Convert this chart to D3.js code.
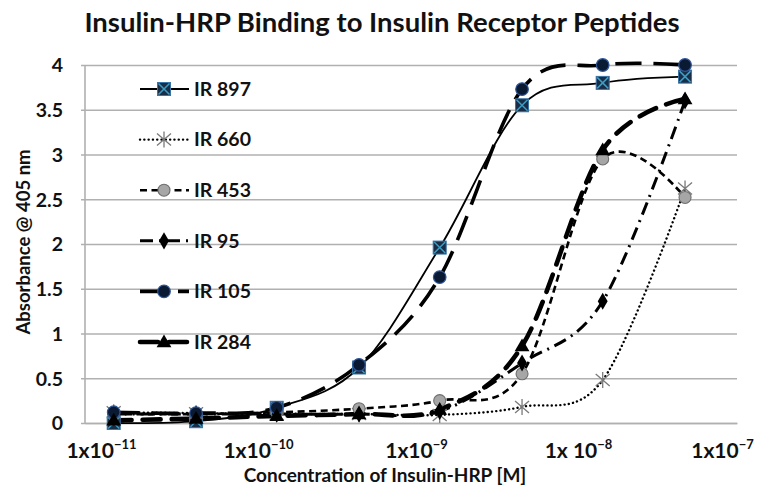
<!DOCTYPE html>
<html>
<head>
<meta charset="utf-8">
<script src="https://cdn.jsdelivr.net/npm/d3@7"></script>
<style>
  html, body { margin: 0; padding: 0; background: #fff; }
  svg { display: block; }
  text { font-family: Lato, "Open Sans", sans-serif; font-weight: bold; fill: #111; }
</style>
</head>
<body>
<svg id="chart" width="760" height="495"></svg>
<script>
// ---------------- data ----------------
const chartTitle = "Insulin-HRP Binding to Insulin Receptor Peptides";
const xAxisTitle = "Concentration of Insulin-HRP [M]";
const yAxisTitle = "Absorbance @ 405 nm";

const concentrations = [1.5e-11, 4.8e-11, 1.5e-10, 4.8e-10, 1.5e-9, 4.8e-9, 1.5e-8, 4.8e-8];

const seriesNames = ["IR 897", "IR 660", "IR 453", "IR 95", "IR 105", "IR 284"];
const ir897 = [0.00, 0.02, 0.17, 0.62, 1.96, 3.55, 3.80, 3.87];
const ir660 = [0.12, 0.11, 0.10, 0.10, 0.09, 0.18, 0.48, 2.62];
const ir453 = [0.10, 0.10, 0.12, 0.16, 0.25, 0.55, 2.95, 2.52];
const ir95  = [0.10, 0.10, 0.10, 0.10, 0.13, 0.67, 1.36, 3.60];
const ir105 = [0.12, 0.11, 0.17, 0.65, 1.63, 3.73, 4.00, 4.00];
const ir284 = [0.03, 0.05, 0.08, 0.10, 0.15, 0.86, 3.05, 3.62];

const yTickValues = [0, 0.5, 1, 1.5, 2, 2.5, 3, 3.5, 4];
const yTickLabels = ["0", "0.5", "1", "1.5", "2", "2.5", "3", "3.5", "4"];
const xTickValues = [1e-11, 1e-10, 1e-9, 1e-8, 1e-7];
const xTickBase = ["1x10", "1x10", "1x10", "1x 10", "1x10"];
const xTickExp = ["\u221211", "\u221210", "\u22129", "\u22128", "\u22127"];

// ---------------- styles ----------------
const seriesValues = [ir897, ir660, ir453, ir95, ir105, ir284];
const seriesStyle = [
  { dash: null,        width: 1.8, cap: "butt",  marker: "squareX" },
  { dash: "0.1,4.2",   width: 2.4, cap: "round", marker: "star" },
  { dash: "7,4.5",     width: 2.6, cap: "butt",  marker: "circleGrey" },
  { dash: "13,6,2,6",  width: 3.0, cap: "butt",  marker: "diamond" },
  { dash: "26,12",     width: 3.6, cap: "butt",  marker: "circleNavy" },
  { dash: "18,11",     width: 4.6, cap: "round", marker: "triangle" }
];

const svg = d3.select("#chart");
const plot = { left: 85, right: 737, top: 65, bottom: 423 };

const x = d3.scaleLog().domain([1e-11, 1e-7]).range([plot.left, plot.right]);
const y = d3.scaleLinear().domain([0, 4]).range([plot.bottom, plot.top]);

// title
svg.append("text")
  .attr("x", 382).attr("y", 32)
  .attr("text-anchor", "middle")
  .style("font-size", "27.5px")
  .text(chartTitle);

// y grid + axis
const yAxis = d3.axisLeft(y)
  .tickValues(yTickValues)
  .tickFormat((d, i) => yTickLabels[i])
  .tickSize(-(plot.right - plot.left))
  .tickPadding(22);
const gy = svg.append("g").attr("transform", `translate(${plot.left},0)`).call(yAxis);
gy.select(".domain").remove();
gy.selectAll(".tick line").attr("stroke", "#b0b0b0").attr("stroke-width", 1.6).attr("x2", plot.right - plot.left).attr("x1", -4);
gy.selectAll(".tick text").style("font-size", "19.5px").attr("fill", "#111").attr("x", -22).attr("dy", "0.35em");

// y axis line
svg.append("line")
  .attr("x1", plot.left).attr("x2", plot.left)
  .attr("y1", plot.top).attr("y2", plot.bottom)
  .attr("stroke", "#b0b0b0").attr("stroke-width", 1.6);

// x axis
const xLabelShift = [16, 10, 5, 4, -15];
const xAxis = d3.axisBottom(x).tickValues(xTickValues).tickSize(0).tickFormat("");
const gx = svg.append("g").attr("transform", `translate(0,${plot.bottom})`).call(xAxis);
gx.select(".domain").attr("stroke", "#b0b0b0").attr("stroke-width", 1.6);
gx.selectAll(".tick").each(function (d, i) {
  const t = d3.select(this).append("text")
    .attr("x", xLabelShift[i]).attr("y", 35)
    .attr("text-anchor", "middle")
    .style("font-size", "21px")
    .attr("fill", "#111");
  t.append("tspan").text(xTickBase[i]);
  t.append("tspan").attr("dy", -9).style("font-size", "13px").text(xTickExp[i]);
});

// axis titles
svg.append("text")
  .attr("x", 385).attr("y", 482)
  .attr("text-anchor", "middle")
  .style("font-size", "19px")
  .text(xAxisTitle);
svg.append("text")
  .attr("transform", "translate(30,242) rotate(-90)")
  .attr("text-anchor", "middle")
  .style("font-size", "18.5px")
  .text(yAxisTitle);

// markers
function drawMarker(g, type, cx, cy) {
  const m = g.append("g").attr("transform", `translate(${cx},${cy})`);
  if (type === "squareX") {
    m.append("rect").attr("x", -6.5).attr("y", -6.5).attr("width", 13).attr("height", 13)
      .attr("fill", "#1a2d47").attr("stroke", "#3a74a6").attr("stroke-width", 1);
    m.append("path").attr("d", "M-5.5,-5.5L5.5,5.5M5.5,-5.5L-5.5,5.5")
      .attr("stroke", "#3d9cc2").attr("stroke-width", 1.5);
  } else if (type === "star") {
    m.append("path").attr("d", "M0,-8L0,8M-7,-6L7,6M7,-6L-7,6")
      .attr("stroke", "#7a7a7a").attr("stroke-width", 1.3).attr("fill", "none");
  } else if (type === "circleGrey") {
    m.append("circle").attr("r", 6).attr("fill", "#a6a6a6").attr("stroke", "#6e6e6e").attr("stroke-width", 1.1);
  } else if (type === "diamond") {
    m.append("path").attr("d", d3.symbol(d3.symbolDiamond, 85)()).attr("fill", "#000");
  } else if (type === "circleNavy") {
    m.append("circle").attr("r", 6.3).attr("fill", "#0b1a33").attr("stroke", "#2f5597").attr("stroke-width", 1.2);
  } else if (type === "triangle") {
    m.append("path").attr("d", d3.symbol(d3.symbolTriangle, 95)()).attr("transform", "translate(0,1)").attr("fill", "#000");
  }
}

const line = d3.line()
  .x(d => x(d[0]))
  .y(d => y(d[1]))
  .curve(d3.curveCardinal.tension(0));

const gSeries = svg.append("g");
seriesValues.forEach((vals, si) => {
  const st = seriesStyle[si];
  const pts = concentrations.map((c, i) => [c, vals[i]]);
  gSeries.append("path")
    .attr("d", line(pts))
    .attr("fill", "none")
    .attr("stroke", "#000")
    .attr("stroke-width", st.width)
    .attr("stroke-linecap", st.cap)
    .attr("stroke-dasharray", st.dash);
});
seriesValues.forEach((vals, si) => {
  const st = seriesStyle[si];
  const gm = gSeries.append("g");
  concentrations.forEach((c, i) => drawMarker(gm, st.marker, x(c), y(vals[i])));
});

// legend
const legend = svg.append("g");
seriesNames.forEach((name, i) => {
  const st = seriesStyle[i];
  const ly = 89 + i * 50.6;
  legend.append("line")
    .attr("x1", 140).attr("x2", 189).attr("y1", ly).attr("y2", ly)
    .attr("stroke", "#000").attr("stroke-width", st.width)
    .attr("stroke-linecap", st.cap)
    .attr("stroke-dasharray", st.dash);
  drawMarker(legend, st.marker, 164, ly);
  legend.append("text")
    .attr("x", 194).attr("y", ly).attr("dy", "0.35em")
    .style("font-size", "19.5px")
    .text(name);
});
</script>
</body>
</html>
